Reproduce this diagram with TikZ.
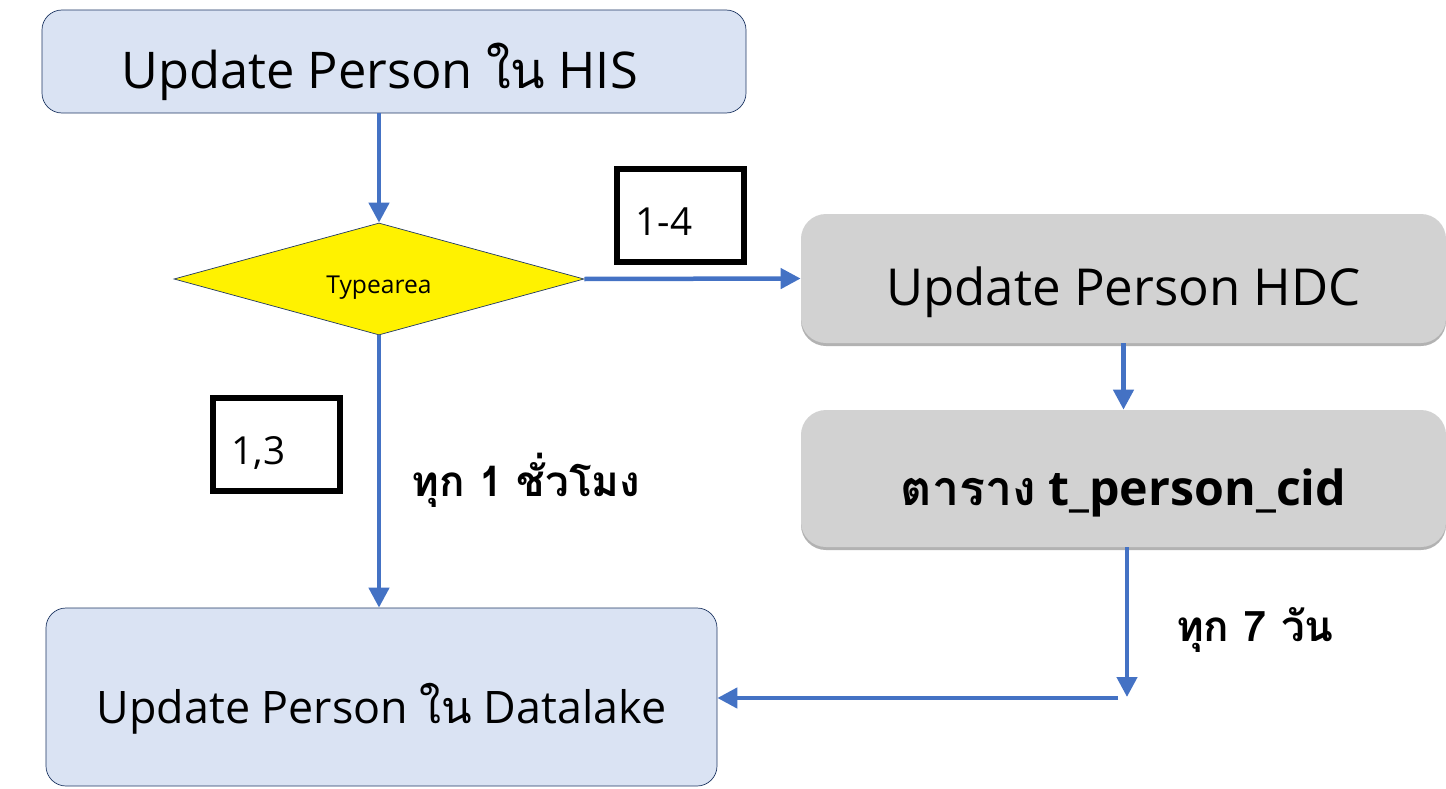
\documentclass[tikz,border=0pt]{standalone}
\usepackage{fontspec}
\setmainfont{Open Sans}
\newfontfamily\thaifont[Script=Thai]{Loma}
\usepackage{tikz}
\usetikzlibrary{arrows.meta,shapes.geometric,shadows,positioning}

\definecolor{boxblue}{HTML}{DAE3F3}
\definecolor{boxline}{HTML}{203864}
\definecolor{flowblue}{HTML}{4472C4}
\definecolor{boxgray}{HTML}{D2D2D2}

\begin{document}
\begin{tikzpicture}[
  x=0.2mm, y=-0.2mm,
  bluebox/.style={rectangle, rounded corners=4mm, draw=boxline, thin, fill=boxblue, inner sep=0pt},
  graybox/.style={rectangle, rounded corners=5mm, fill=boxgray, inner sep=0pt, minimum width=129mm,
    drop shadow={fill=gray!75, opacity=0.8, shadow xshift=0mm, shadow yshift=-0.6mm}},
  decision/.style={diamond, draw=boxline, thin, fill=yellow, inner sep=0pt, aspect=3.66,
    minimum width=82mm, minimum height=22.4mm, text height=5.7mm, text depth=0mm},
  casebox/.style={rectangle, draw=black, line width=1.2mm, minimum width=25.4mm, minimum height=18.6mm,
    text width=18mm, align=left, text height=8mm, text depth=0mm, font=\fontsize{22}{26}\selectfont},
  bigtext/.style={text height=10.6mm, text depth=0mm, font=\fontsize{#1}{34}\selectfont},
  flow/.style={draw=flowblue, line width=0.9mm, -{Triangle[length=4mm,width=4mm]}},
  note/.style={font=\fontsize{24}{30}\selectfont\bfseries\thaifont}
]
  \useasboundingbox (0,0) rectangle (1446,789);

  % flow boxes
  \node[bluebox, bigtext=28.8, minimum width=140.8mm, minimum height=20.6mm] (his) at (394,61.5) {Update Person {\thaifont ใน} HIS\hspace*{5.8mm}};
  \node[decision] (typearea) at (379,279) {\fontsize{14}{16}\selectfont Typearea};
  \node[graybox, bigtext=29, minimum height=25.8mm] (hdc) at (1123.5,278.5) {Update Person HDC};
  \node[graybox, bigtext=27.5, minimum height=27.4mm] (tperson) at (1123.5,478.5) {\bfseries{\thaifont ตาราง} t\_person\_cid};
  \node[bluebox, bigtext=25.5, minimum width=134.2mm, minimum height=35.6mm] (datalake) at (381.5,697) {Update Person {\thaifont ใน} Datalake};

  % type codes
  \node[casebox] (typeA) at (680.5,215) {1-4};
  \node[casebox] (typeB) at (276.5,444) {1,3};

  % schedules
  \node[note] (hourly) at (526,480) {ทุก 1 ชั่วโมง};
  \node[note] (weekly) at (1255,630) {ทุก 7 วัน};

  % connectors
  \coordinate (weeklyEnd) at (1127,697);
  \coordinate (weeklyTurn) at (1118,698);
  \draw[flow] (his.south -| typearea.north) -- (typearea.north);
  \draw[flow] (typearea.east) -- (hdc.west);
  \draw[flow] (typearea.south) -- (typearea.south |- datalake.north);
  \draw[flow] (hdc.south) -- (tperson.north);
  \draw[flow] (tperson.south -| weeklyEnd) -- (weeklyEnd);
  \draw[flow] (weeklyTurn) -- (weeklyTurn -| datalake.east);
\end{tikzpicture}
\end{document}
